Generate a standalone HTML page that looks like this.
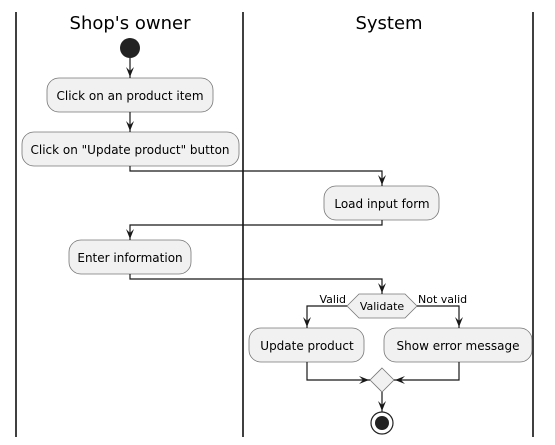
<!DOCTYPE html>
<html><head><meta charset="utf-8"><style>
html,body{margin:0;padding:0;background:#fff;}
svg{display:block;font-family:"DejaVu Sans","Liberation Sans",sans-serif;}
</style></head><body>
<svg width="555" height="445" viewBox="0 0 555 445" xmlns="http://www.w3.org/2000/svg">
<g stroke="#000" stroke-width="1.5">
<line x1="16" y1="12" x2="16" y2="437"/>
<line x1="243" y1="12" x2="243" y2="437"/>
<line x1="533" y1="12" x2="533" y2="437"/>
</g>
<text x="130" y="29" font-size="18" text-anchor="middle">Shop's owner</text>
<text x="389" y="29" font-size="18" text-anchor="middle">System</text>
<circle cx="130" cy="48" r="10" fill="#222"/>
<g fill="#f1f1f1" stroke="#777" stroke-width="0.8">
<rect x="47" y="78" width="166" height="34" rx="12"/>
<rect x="22" y="132" width="217" height="34" rx="12"/>
<rect x="324" y="186" width="115" height="34" rx="12"/>
<rect x="69" y="240" width="122" height="34" rx="12"/>
<polygon points="347,306 359,294 405,294 417,306 405,318 359,318"/>
<rect x="249" y="328" width="115" height="34" rx="12"/>
<rect x="384" y="328" width="148" height="34" rx="12"/>
<polygon points="382,368 394,380 382,392 370,380"/>
</g>
<g font-size="12" text-anchor="middle" fill="#000">
<text x="130" y="100">Click on an product item</text>
<text x="130" y="154">Click on "Update product" button</text>
<text x="382" y="208">Load input form</text>
<text x="130" y="262">Enter information</text>
<text x="382" y="310" font-size="11">Validate</text>
<text x="307" y="350">Update product</text>
<text x="458" y="350">Show error message</text>
<text x="346" y="303" font-size="11" text-anchor="end">Valid</text>
<text x="418" y="303" font-size="11" text-anchor="start">Not valid</text>
</g>
<g fill="none" stroke="#181818" stroke-width="1.2">
<path d="M130,58 V78"/>
<path d="M130,112 V132"/>
<path d="M130,166 V171 H382 V186"/>
<path d="M382,220 V225 H130 V240"/>
<path d="M130,274 V279 H382 V294"/>
<path d="M347,306 H307 V328"/>
<path d="M417,306 H459 V328"/>
<path d="M307,362 V380 H370"/>
<path d="M459,362 V380 H394"/>
<path d="M382,392 V412"/>
</g>
<g fill="#181818">
<polygon points="126,67 130,77 134,67 130,71"/>
<polygon points="126,121 130,131 134,121 130,125"/>
<polygon points="378,175 382,185 386,175 382,179"/>
<polygon points="126,229 130,239 134,229 130,233"/>
<polygon points="378,283 382,293 386,283 382,287"/>
<polygon points="303,317 307,327 311,317 307,321"/>
<polygon points="455,317 459,327 463,317 459,321"/>
<polygon points="359,376 369,380 359,384 363,380"/>
<polygon points="405,376 395,380 405,384 401,380"/>
<polygon points="378,401 382,411 386,401 382,405"/>
</g>
<circle cx="382" cy="423" r="11" fill="none" stroke="#222" stroke-width="1.2"/>
<circle cx="382" cy="423" r="7" fill="#222"/>
</svg>
</body></html>
